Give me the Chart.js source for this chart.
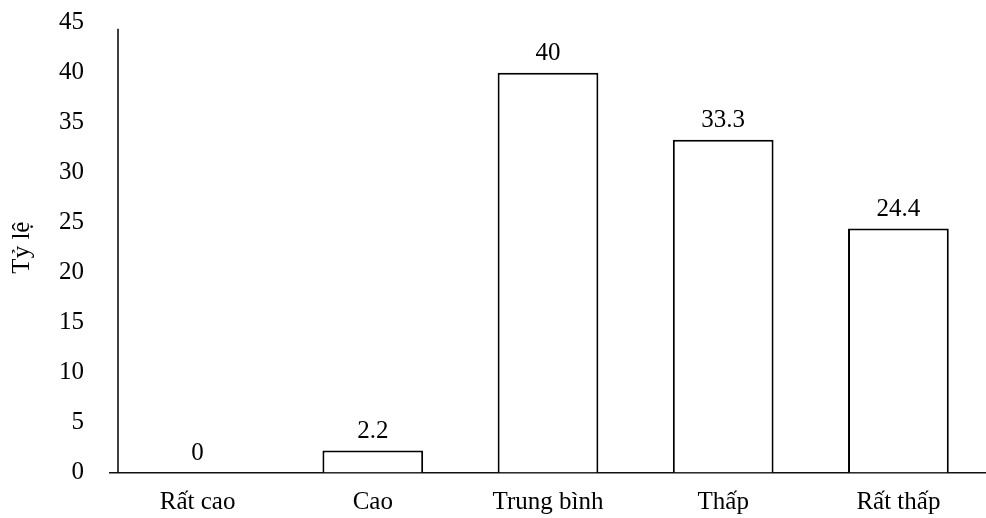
<!DOCTYPE html>
<html>
<head>
<meta charset="utf-8">
<script src="https://cdn.jsdelivr.net/npm/chart.js@4"></script>
<style>
  html, body { margin: 0; padding: 0; background: #fff; }
  #wrap { width: 986px; height: 518px; }
</style>
</head>
<body>
<div id="wrap"><canvas id="chart"></canvas></div>
<script>
const categories = ["Rất cao", "Cao", "Trung bình", "Thấp", "Rất thấp"];
const values = [0, 2.2, 40, 33.3, 24.4];
const yTitle = "Tỷ lệ";

const fontFamily = "'Liberation Serif', 'Times New Roman', serif";
const fontSize = 25;

// value labels above each bar
const valueLabels = {
  id: "valueLabels",
  afterDatasetsDraw(chart) {
    const ctx = chart.ctx;
    const meta = chart.getDatasetMeta(0);
    ctx.save();
    ctx.font = fontSize + "px " + fontFamily;
    ctx.fillStyle = "#000";
    ctx.textAlign = "center";
    ctx.textBaseline = "alphabetic";
    meta.data.forEach((bar, i) => {
      ctx.fillText(String(values[i]), bar.x, bar.y - 13);
    });
    ctx.restore();
  }
};

// vertical axis line sits a little inside the category area
const yAxisLine = {
  id: "yAxisLine",
  afterDraw(chart) {
    const { ctx, chartArea } = chart;
    ctx.save();
    ctx.strokeStyle = "#000";
    ctx.lineWidth = 1.5;
    ctx.beginPath();
    ctx.moveTo(chartArea.left + 8, chartArea.top + 6);
    ctx.lineTo(chartArea.left + 8, chartArea.bottom);
    ctx.stroke();
    ctx.restore();
  }
};

new Chart(document.getElementById("chart"), {
  type: "bar",
  data: {
    labels: categories,
    datasets: [{
      data: values,
      backgroundColor: "#fff",
      borderColor: "#000",
      borderWidth: 2,
      barPercentage: 0.575,
      categoryPercentage: 1
    }]
  },
  options: {
    responsive: true,
    maintainAspectRatio: false,
    animation: false,
    layout: { padding: { top: 22.7, right: 0, left: 0, bottom: 0 } },
    plugins: { legend: { display: false }, tooltip: { enabled: false } },
    scales: {
      x: {
        grid: { display: false, drawTicks: false },
        border: { display: true, color: "#111", width: 1.5 },
        ticks: {
          color: "#000",
          font: { family: fontFamily, size: fontSize },
          padding: 15,
          maxRotation: 0
        },
        afterFit(scale) { scale.height = 45.5; }
      },
      y: {
        min: 0,
        max: 45,
        grid: { display: false, drawTicks: false },
        border: { display: false },
        ticks: {
          stepSize: 5,
          color: "#000",
          font: { family: fontFamily, size: fontSize },
          padding: 26
        },
        title: {
          display: true,
          text: yTitle,
          color: "#000",
          font: { family: fontFamily, size: fontSize },
          padding: { top: 7, bottom: 0 }
        },
        afterFit(scale) {
          scale.width = 110;
          scale.paddingTop = 0;
          scale.paddingBottom = 0;
        }
      }
    }
  },
  plugins: [valueLabels, yAxisLine]
});
</script>
</body>
</html>
